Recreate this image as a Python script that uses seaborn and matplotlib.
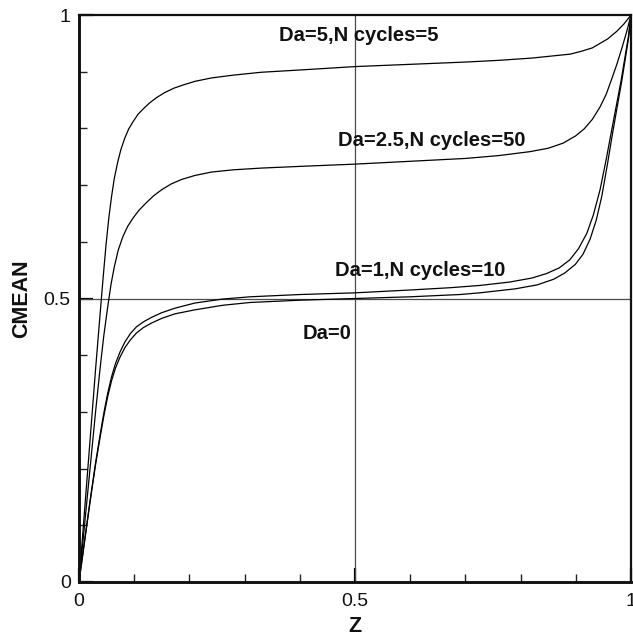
import matplotlib
matplotlib.use("Agg")
import matplotlib.pyplot as plt
from matplotlib.ticker import MultipleLocator, FixedLocator
import seaborn as sns
import pandas as pd

# ---- data ----
z_da5 = [0, 0.01, 0.02, 0.03, 0.038, 0.044, 0.049, 0.054, 0.059, 0.064, 0.070, 0.076,
         0.083, 0.090, 0.098, 0.107, 0.117, 0.128, 0.140, 0.155, 0.172, 0.19, 0.21,
         0.24, 0.28, 0.33, 0.4, 0.5, 0.6, 0.7, 0.76, 0.82, 0.86, 0.89, 0.91, 0.93,
         0.944, 0.958, 0.974, 0.987, 1.0]
c_da5 = [0, 0.125, 0.25, 0.375, 0.47, 0.54, 0.595, 0.642, 0.68, 0.712, 0.740, 0.763,
         0.783, 0.799, 0.812, 0.825, 0.835, 0.845, 0.854, 0.863, 0.871, 0.877, 0.883,
         0.889, 0.894, 0.899, 0.903, 0.909, 0.913, 0.917, 0.920, 0.924, 0.928, 0.931,
         0.936, 0.942, 0.950, 0.958, 0.971, 0.984, 1.0]

z_da25 = [0, 0.01, 0.02, 0.03, 0.038, 0.045, 0.052, 0.058, 0.064, 0.071, 0.079, 0.088,
          0.098, 0.109, 0.121, 0.135, 0.15, 0.167, 0.186, 0.21, 0.24, 0.28, 0.33, 0.4,
          0.5, 0.6, 0.7, 0.76, 0.817, 0.85, 0.877, 0.9, 0.915, 0.93, 0.944, 0.955,
          0.965, 0.974, 0.983, 0.992, 1.0]
c_da25 = [0, 0.1, 0.2, 0.3, 0.375, 0.435, 0.485, 0.525, 0.556, 0.585, 0.608, 0.627,
          0.642, 0.656, 0.668, 0.681, 0.692, 0.702, 0.710, 0.717, 0.723, 0.727, 0.730,
          0.733, 0.737, 0.742, 0.747, 0.752, 0.759, 0.765, 0.774, 0.787, 0.799, 0.816,
          0.838, 0.860, 0.887, 0.912, 0.940, 0.970, 1.0]

z_da1 = [0, 0.01, 0.02, 0.03, 0.038, 0.045, 0.052, 0.059, 0.066, 0.074, 0.083, 0.093,
         0.104, 0.117, 0.132, 0.15, 0.174, 0.21, 0.26, 0.31, 0.4, 0.5, 0.6, 0.672,
         0.726, 0.78, 0.82, 0.847, 0.87, 0.889, 0.905, 0.92, 0.932, 0.944, 0.955,
         0.965, 0.974, 0.982, 0.989, 0.995, 1.0]
c_da1 = [0, 0.072, 0.143, 0.21, 0.258, 0.298, 0.333, 0.362, 0.385, 0.405, 0.423, 0.438,
         0.450, 0.459, 0.467, 0.475, 0.483, 0.492, 0.499, 0.503, 0.507, 0.510, 0.515,
         0.519, 0.523, 0.529, 0.536, 0.544, 0.554, 0.568, 0.588, 0.615, 0.648, 0.692,
         0.745, 0.797, 0.843, 0.884, 0.925, 0.960, 1.0]

z_da0 = [0, 0.01, 0.02, 0.03, 0.038, 0.045, 0.052, 0.059, 0.066, 0.074, 0.083, 0.093,
         0.104, 0.117, 0.132, 0.15, 0.174, 0.21, 0.26, 0.31, 0.4, 0.5, 0.6, 0.69,
         0.726, 0.79, 0.83, 0.86, 0.88, 0.899, 0.913, 0.926, 0.937, 0.947, 0.957,
         0.966, 0.975, 0.983, 0.99, 0.996, 1.0]
c_da0 = [0, 0.071, 0.141, 0.207, 0.254, 0.293, 0.327, 0.355, 0.377, 0.396, 0.413, 0.427,
         0.439, 0.449, 0.457, 0.465, 0.473, 0.480, 0.488, 0.493, 0.497, 0.500, 0.503,
         0.507, 0.510, 0.517, 0.524, 0.534, 0.545, 0.560, 0.578, 0.605, 0.638, 0.680,
         0.735, 0.788, 0.838, 0.882, 0.925, 0.962, 1.0]

labels = ["Da=5,N cycles=5", "Da=2.5,N cycles=50", "Da=1,N cycles=10", "Da=0"]
label_x = [0.362, 0.469, 0.464, 0.405]
label_y = [0.963, 0.778, 0.549, 0.439]

major_ticks = [0, 0.5, 1]
major_labels = ["0", "0.5", "1"]

# ---- plot ----
sns.set_theme(style="white")
plt.rcParams["font.family"] = ["Liberation Sans", "DejaVu Sans"]

fig = plt.figure(figsize=(6.33, 6.4), dpi=100)
W, H = 633, 640
ax = fig.add_axes([79 / W, (H - 582) / H, (631 - 79) / W, (582 - 15) / H])

ax.axvline(0.5, color="#4a4a4a", lw=0.9, zorder=1)
ax.axhline(0.5, color="#4a4a4a", lw=0.9, zorder=1)

for zx, cy in [(z_da5, c_da5), (z_da25, c_da25), (z_da1, c_da1), (z_da0, c_da0)]:
    df = pd.DataFrame({"Z": zx, "CMEAN": cy})
    sns.lineplot(data=df, x="Z", y="CMEAN", ax=ax, color="black", lw=0.9,
                 estimator=None, sort=False, zorder=2)

for t, lx, ly in zip(labels, label_x, label_y):
    ax.text(lx, ly, t, fontsize=14.5, fontweight="bold", ha="left", va="center",
            color="#111111")

ax.set_xlim(0, 1)
ax.set_ylim(0, 1)
ax.xaxis.set_major_locator(FixedLocator(major_ticks))
ax.yaxis.set_major_locator(FixedLocator(major_ticks))
ax.set_xticklabels(major_labels)
ax.set_yticklabels(major_labels)
ax.xaxis.set_minor_locator(MultipleLocator(0.1))
ax.yaxis.set_minor_locator(MultipleLocator(0.1))

ax.tick_params(which="major", direction="in", length=10, width=1.6, color="black",
               labelsize=14, left=True, bottom=True, top=False, right=False,
               labelcolor="#111111")
ax.tick_params(axis="x", which="major", pad=8)
ax.tick_params(axis="y", which="major", pad=6)
ax.tick_params(which="minor", direction="in", length=5.8, width=1.0, color="#222222",
               left=True, bottom=True, top=False, right=False)

for side in ["left", "bottom"]:
    ax.spines[side].set_linewidth(2.1)
for side in ["top", "right"]:
    ax.spines[side].set_linewidth(1.6)
for s in ax.spines.values():
    s.set_color("#111111")
    s.set_visible(True)
    s.set_zorder(5)

ax.set_xlabel("Z", fontsize=15.5, fontweight="bold", va="center", color="#111111")
ax.set_ylabel("CMEAN", fontsize=15.5, fontweight="bold", va="center", ha="center",
              color="#111111")
ax.xaxis.set_label_coords(0.5, (582 - 627) / 567)
ax.yaxis.set_label_coords((22 - 79) / 552, 0.5)

fig.savefig("out.png", dpi=100)
